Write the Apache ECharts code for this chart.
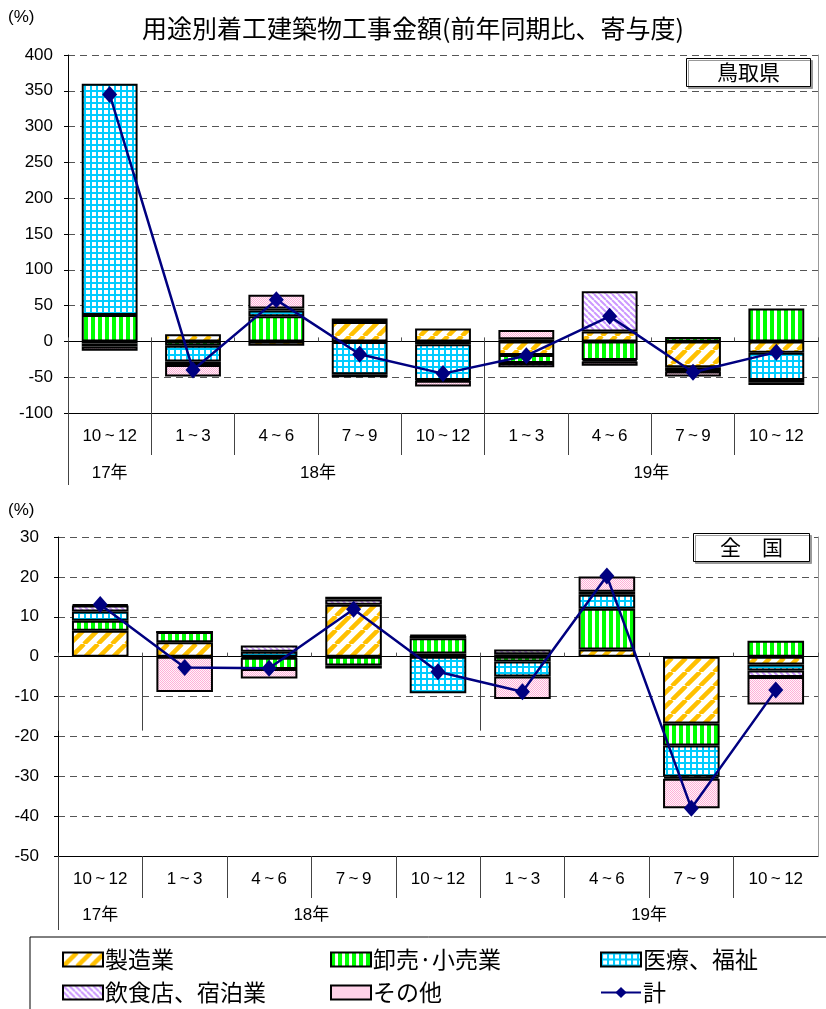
<!DOCTYPE html>
<html><head><meta charset="utf-8">
<script src="https://cdn.jsdelivr.net/npm/echarts@6/dist/echarts.min.js"></script>
<style>html,body{margin:0;padding:0;background:#fff}#c{width:826px;height:1009px}</style>
</head><body><div id="c"></div>
<script>
// ---------- data ----------
const categories = ['10\u2009~\u200912','1\u2009~\u20093','4\u2009~\u20096','7\u2009~\u20099','10\u2009~\u200912','1\u2009~\u20093','4\u2009~\u20096','7\u2009~\u20099','10\u2009~\u200912'];
const yearLabels = ['17年','18年','19年'];
const yearSpans = [1, 4, 4];
const seriesNames = ['製造業','卸売·小売業','医療、福祉','飲食店、宿泊業','その他','計'];

// 鳥取県
const tottoriMfg    = [-3, 10, -6, 27, 18, -19, 14, -36, -16];
const tottoriTrade  = [37, -6, 35, -1, -4, -11, -26, 6, 46];
const tottoriMed    = [323, -22, 8, -45, -50, 3, -2, -5, -38];
const tottoriFood   = [-4, -5, 3, -4, -1, -6, 56, -1, -3];
const tottoriOther  = [-6, -16, 19, 5, -8, 13, -6, -7, -4];
const tottoriTotal  = [345, -40, 58, -18, -45, -20, 35, -43, -15];

// 全国
const nationMfg   = [6.5, 3.6, -0.3, 13, 0.8, 0.6, 1.8, -16.8, -2];
const nationTrade = [2.5, 2.6, -2.8, -2.2, 3.8, -1.2, 10.2, -5.5, 4];
const nationMed   = [2.3, 0, 1.2, -0.8, -9.2, -3.8, 3.5, -7.8, -1.5];
const nationFood  = [1.5, 0, 1.6, 1.3, 0.6, 1.2, 0.8, -0.5, -1.6];
const nationOther = [0.3, -8.9, -2.4, 0.7, 0.2, -5.6, 3.8, -7.4, -6.9];
const nationTotal = [13.1, -2.7, -2.9, 11.9, -3.8, -8.8, 20.2, -38, -8.4];

// ---------- patterns ----------
function pat(kind){
  const c = document.createElement('canvas');
  let ctx;
  if (kind === 'mfg') {
    const s = 14; c.width = c.height = s; ctx = c.getContext('2d');
    ctx.fillStyle = '#fff'; ctx.fillRect(0,0,s,s);
    ctx.strokeStyle = '#FFC000'; ctx.lineWidth = 4.5; ctx.beginPath();
    for (let k = -s; k <= s; k += s) { ctx.moveTo(k, s); ctx.lineTo(k + s, 0); }
    ctx.stroke();
  } else if (kind === 'trade') {
    c.width = 7; c.height = 4; ctx = c.getContext('2d');
    ctx.fillStyle = '#fff'; ctx.fillRect(0,0,7,4);
    ctx.fillStyle = '#00FF00'; ctx.fillRect(0,0,4,4);
  } else if (kind === 'med') {
    c.width = c.height = 6; ctx = c.getContext('2d');
    ctx.fillStyle = '#00CCFF'; ctx.fillRect(0,0,6,6);
    ctx.fillStyle = '#fff'; ctx.fillRect(2,2,4,4);
  } else if (kind === 'food') {
    const s = 6; c.width = c.height = s; ctx = c.getContext('2d');
    ctx.fillStyle = '#fff'; ctx.fillRect(0,0,s,s);
    ctx.strokeStyle = '#CC99FF'; ctx.lineWidth = 2; ctx.beginPath();
    for (let k = -s; k <= s; k += s) { ctx.moveTo(k, 0); ctx.lineTo(k + s, s); }
    ctx.stroke();
  } else {
    c.width = c.height = 2; ctx = c.getContext('2d');
    ctx.fillStyle = '#FFF4F9'; ctx.fillRect(0,0,2,2);
    ctx.fillStyle = '#FFB0D8'; ctx.fillRect(0,0,1,1); ctx.fillRect(1,1,1,1);
  }
  return { image: c, repeat: 'repeat' };
}
const fills = [pat('mfg'), pat('trade'), pat('med'), pat('food'), pat('other')];

const NUM = "'Liberation Sans','Noto Sans CJK JP',sans-serif";
const JP = "'Noto Sans CJK JP',sans-serif";

// half-slot helper axes (boundaryGap false): boundaries at even indices, centres at odd ones
const slotCount = categories.length * 2 + 1;
const yearAxisData = new Array(slotCount).fill('');
const blankSlots = new Array(slotCount).fill('');
const yearBoundaries = new Set();
let start = 0;
yearLabels.forEach((y, i) => {
  yearBoundaries.add(start * 2);
  yearAxisData[start * 2 + yearSpans[i]] = y;
  start += yearSpans[i];
});

function makeAxes(g, min, max, interval, tickLen, yearTickLen, labelMargin, yearMargin, yLabelMargin) {
  const xs = [
    { gridIndex: g, type: 'category', data: categories, position: 'top',
      axisLine: { onZero: true, lineStyle: { color: '#000', width: 1 } },
      axisTick: { show: true, length: 4, lineStyle: { color: '#555' } },
      axisLabel: { show: false }, splitLine: { show: false } },
    { gridIndex: g, type: 'category', data: categories, position: 'bottom',
      axisLine: { onZero: false, lineStyle: { color: '#000', width: 1 } },
      axisTick: { show: false },
      axisLabel: { margin: labelMargin, fontSize: 17, color: '#000', fontFamily: NUM, interval: 0 },
      splitLine: { show: false } },
    { gridIndex: g, type: 'category', data: yearAxisData, position: 'bottom', boundaryGap: false,
      axisLine: { show: false },
      axisTick: { show: true, length: yearTickLen, lineStyle: { color: '#444' },
        interval: (idx) => yearBoundaries.has(idx) },
      axisLabel: { margin: yearMargin, fontSize: 17, color: '#000', fontFamily: NUM, interval: 0 },
      splitLine: { show: false } },
    { gridIndex: g, type: 'category', data: blankSlots, position: 'bottom', boundaryGap: false,
      axisLine: { show: false },
      axisTick: { show: true, length: tickLen, lineStyle: { color: '#444' },
        interval: (idx) => idx % 2 === 0 && idx > 0 && idx < slotCount - 1 },
      axisLabel: { show: false }, splitLine: { show: false } }
  ];
  const ys = [
    { gridIndex: g, type: 'value', min, max, interval, position: 'left',
      axisLine: { show: true, lineStyle: { color: '#000' } },
      axisTick: { show: true, length: 4, lineStyle: { color: '#000' } },
      axisLabel: { fontSize: 17, color: '#000', fontFamily: NUM, margin: yLabelMargin },
      splitLine: { show: true, lineStyle: { color: '#555', type: [7, 5], width: 1 } } },
    { gridIndex: g, type: 'value', min, max, interval, position: 'right',
      axisLine: { show: true, lineStyle: { color: '#999' } },
      axisTick: { show: false }, axisLabel: { show: false }, splitLine: { show: false } }
  ];
  return { xs, ys };
}

const a0 = makeAxes(0, -100, 400, 50, 42, 72, 15, 52, 15);
const a1 = makeAxes(1, -50, 30, 10, 42, 74, 15, 51, 19);
const X_PER_GRID = 4;

function barsFor(xBase, yBase, arrs, stack) {
  return arrs.map((d, i) => ({
    name: seriesNames[i], type: 'bar', stack, xAxisIndex: xBase + 1, yAxisIndex: yBase,
    data: d, barCategoryGap: '33%',
    itemStyle: { color: fills[i], borderColor: '#000', borderWidth: 2 },
    emphasis: { disabled: true }
  }));
}
function lineFor(xBase, yBase, d) {
  return { name: seriesNames[5], type: 'line', xAxisIndex: xBase + 1, yAxisIndex: yBase,
    data: d, symbol: 'diamond', symbolSize: [15, 17], z: 10,
    lineStyle: { color: '#000080', width: 2.5 }, itemStyle: { color: '#000080' } };
}

const series = [
  ...barsFor(0, 0, [tottoriMfg, tottoriTrade, tottoriMed, tottoriFood, tottoriOther], 't'),
  lineFor(0, 0, tottoriTotal),
  ...barsFor(X_PER_GRID, 2, [nationMfg, nationTrade, nationMed, nationFood, nationOther], 'n'),
  lineFor(X_PER_GRID, 2, nationTotal)
];

const legendPos = [[62, 948], [330, 948], [600, 948], [62, 981], [330, 981], [600, 981]];
const legends = [0, 1, 2, 3, 4, 5].map((si, k) => {
  const L = { data: [seriesNames[si]], left: legendPos[k][0], top: legendPos[k][1], padding: 0,
    itemWidth: 40, itemHeight: 14, itemGap: 0, selectedMode: false,
    textStyle: { fontSize: 23, color: '#000', fontFamily: JP, padding: [0, 0, 0, -3] } };
  if (si < 5) L.icon = 'rect';
  return L;
});

const option = {
  animation: false,
  backgroundColor: '#fff',
  title: [
    { text: '用途別着工建築物工事金額(前年同期比、寄与度)', left: 'center', top: 16, padding: 0,
      textStyle: { fontSize: 25, fontWeight: 'normal', color: '#000', fontFamily: JP } },
    { text: '(%)', left: 8, top: 9, padding: 0, textStyle: { fontSize: 17, fontWeight: 'normal', color: '#000', fontFamily: NUM } },
    { text: '(%)', left: 8, top: 502, padding: 0, textStyle: { fontSize: 17, fontWeight: 'normal', color: '#000', fontFamily: NUM } },
    { text: '鳥取県', left: 686, top: 58, padding: [4, 31], borderColor: '#000', borderWidth: 1,
      backgroundColor: '#fff', shadowColor: '#999', shadowOffsetX: 2, shadowOffsetY: 2,
      textStyle: { fontSize: 21, fontWeight: 'normal', color: '#000', fontFamily: JP } },
    { text: '全　国', left: 693, top: 533, padding: [4, 27], borderColor: '#000', borderWidth: 1,
      backgroundColor: '#fff', shadowColor: '#999', shadowOffsetX: 2, shadowOffsetY: 2,
      textStyle: { fontSize: 21, fontWeight: 'normal', color: '#000', fontFamily: JP } }
  ],
  grid: [
    { left: 68, right: 8, top: 55, height: 358, containLabel: false },
    { left: 58, right: 8, top: 537, height: 319, containLabel: false }
  ],
  xAxis: [...a0.xs, ...a1.xs],
  yAxis: [...a0.ys, ...a1.ys],
  legend: legends,
  graphic: [
    { id: 'legendFrame', type: 'rect', shape: { x: 30, y: 937, width: 800, height: 76 }, style: { fill: 'none', stroke: '#000', lineWidth: 1 }, z: -1 }
  ],
  series
};

const chart = echarts.init(document.getElementById('c'), null, { renderer: 'canvas' });
chart.setOption(option);

// left edge divider through both label rows (computed from the library's own scales)
const edgeLines = [[2, 0, -100, 72], [X_PER_GRID + 2, 2, -50, 74]].map(([xi, yi, ymin, len], k) => {
  const x = Math.round(chart.convertToPixel({ xAxisIndex: xi }, 0)) + 0.5;
  const y = chart.convertToPixel({ yAxisIndex: yi }, ymin);
  return { id: 'edge' + k, type: 'line', shape: { x1: x, y1: y, x2: x, y2: y + len },
    style: { stroke: '#444', lineWidth: 1 }, z: 5 };
});
chart.setOption({ graphic: edgeLines });
</script>
</body></html>
